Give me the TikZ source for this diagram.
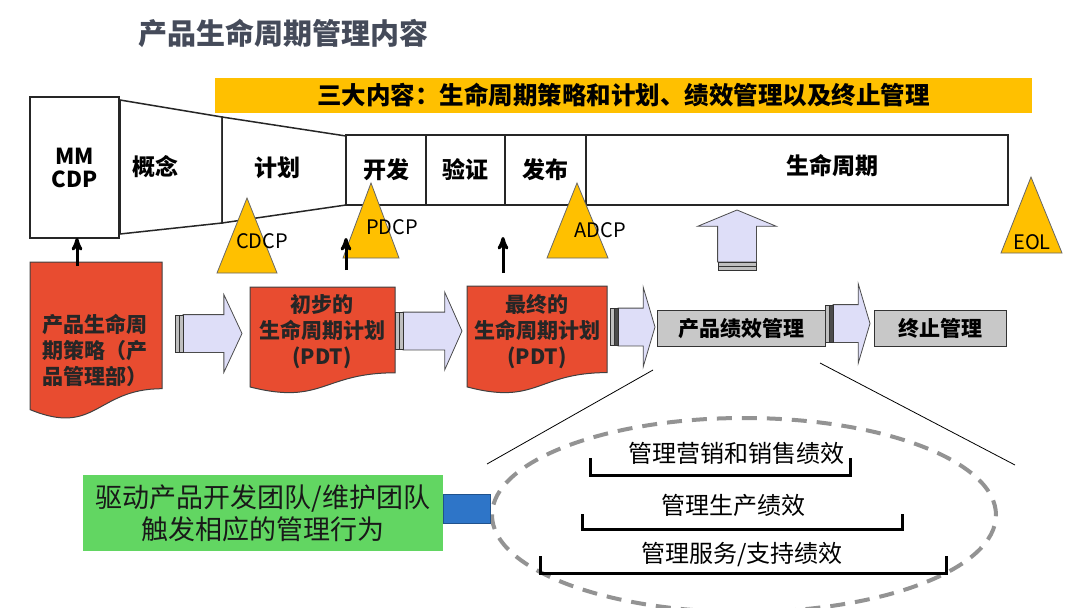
\documentclass[tikz,border=0pt]{standalone}
\usepackage{fontspec}
\setmainfont{Noto Sans CJK SC}
\usepackage{tikz}
\usetikzlibrary{arrows,shapes,positioning}
\definecolor{headgray}{RGB}{69,75,90}
\definecolor{gold}{RGB}{255,192,0}
\definecolor{docred}{RGB}{232,76,48}
\definecolor{lav}{RGB}{222,222,248}
\definecolor{boxgray}{RGB}{200,200,200}
\definecolor{teamgreen}{RGB}{98,214,98}
\definecolor{linkblue}{RGB}{46,117,200}
\newcommand{\fsz}[2]{\fontsize{#1}{#2}\selectfont}
% document shape: x1, x2, top, height
\newcommand{\docpath}[4]{(#1,#3) -- (#2,#3) -- (#2,{#3+0.802*#4}) .. controls ({(#1+#2)/2},{#3+0.802*#4}) and ({(#1+#2)/2},{#3+1.107*#4}) .. (#1,{#3+0.934*#4}) -- cycle}

\begin{document}
\begin{tikzpicture}[x=1pt,y=-1pt,>=stealth',auto]
  \tikzstyle{heading}=[font=\fsz{29}{32}\bfseries,text=headgray,inner sep=0pt]
  \tikzstyle{band}=[rectangle,fill=gold,minimum width=817pt,minimum height=35pt,inner sep=0pt,font=\fsz{24.5}{28}\bfseries]
  \tikzstyle{phase}=[rectangle,draw=black!85,line width=1.3pt,fill=white,minimum height=70pt,inner sep=0pt,outer sep=0pt,font=\fsz{23}{27}\bfseries]
  \tikzstyle{funnel}=[draw=black!85,line width=1.5pt,fill=white]
  \tikzstyle{phlbl}=[inner sep=0pt,font=\fsz{23}{27}\bfseries]
  \tikzstyle{gate}=[fill=gold,draw=black!60,line width=0.8pt]
  \tikzstyle{gatelbl}=[inner sep=0pt,font=\fsz{20}{24}]
  \tikzstyle{rise}=[->,line width=3pt,black]
  \tikzstyle{doc}=[fill=docred,draw=black!75,line width=1pt]
  \tikzstyle{doctext}=[inner sep=0pt,align=center,text=black!85,font=\fsz{21}{26}\bfseries]
  \tikzstyle{flow}=[single arrow,draw=black!70,fill=lav,line width=0.8pt,inner xsep=0pt,inner ysep=18.5pt,outer sep=0pt,single arrow head extend=20pt]
  \tikzstyle{stripe}=[rectangle,draw=black!80,fill=gray!50,line width=0.6pt,minimum width=4pt,minimum height=37pt,inner sep=0pt,outer sep=0pt]
  \tikzstyle{stage}=[rectangle,draw=black!80,fill=boxgray,line width=1pt,minimum height=36pt,inner sep=0pt,font=\fsz{21}{24}\bfseries]
  \tikzstyle{team}=[rectangle,fill=teamgreen,minimum width=360pt,minimum height=76pt,align=center,text=black!90,font=\fsz{27}{32}]
  \tikzstyle{link}=[rectangle,fill=linkblue,draw=linkblue!70!black,minimum width=47pt,minimum height=29pt,inner sep=0pt]
  \tikzstyle{perf}=[ellipse,draw=gray!85,line width=4pt,dash pattern=on 15pt off 10pt,minimum width=504pt,minimum height=194pt]
  \tikzstyle{item}=[inner sep=0pt,font=\fsz{24}{28}]
  \tikzstyle{bracket}=[line width=3pt,black]
  \tikzstyle{spread}=[line width=0.8pt,black]

  \useasboundingbox (0,0) rectangle (1080,608);

  % Title and summary band.
  \node [heading] (ttl) at (283,33) {产品生命周期管理内容};
  \node [band] (band) at (623.5,95.5) {三大内容：生命周期策略和计划、绩效管理以及终止管理};

  \begin{scope}
    % MM CDP and the funnel.
    \node [phase,minimum width=89pt,minimum height=141pt,align=center,font=\fsz{22}{23}\bfseries] (mm) at (74.5,167.5) {MM\\CDP};
    \filldraw [funnel] (120,100) -- (222,117) -- (222,223) -- (120,234) -- cycle;
    \filldraw [funnel] (222,117) -- (346,136) -- (346,205) -- (222,223) -- cycle;
    \node [phlbl] (gn) at (155,167) {概念};
    \node [phlbl] (jh) at (277,168) {计划};

    % Phase bar.
    \node [phase,minimum width=80pt] (ph3) at (386,170) {开发};
    \node [phase,minimum width=79pt] (ph4) [right=0pt of ph3] {验证};
    \node [phase,minimum width=81pt] (ph5) [right=0pt of ph4] {发布};
    \node [phase,minimum width=422pt,label={[phlbl,xshift=35pt,yshift=4pt]center:生命周期}] (ph6) [right=0pt of ph5] {};
  \end{scope}

  \begin{scope}
    % Decision checkpoints.
    \filldraw [gate] (247,198) -- (277,273) -- (217,273) -- cycle;
    \node [gatelbl] (cdcp) at (262,241) {CDCP};
    \filldraw [gate] (371,183) -- (399,258) -- (343,258) -- cycle;
    \node [gatelbl] (pdcp) at (392,227) {PDCP};
    \filldraw [gate] (577,183) -- (608,258) -- (547,258) -- cycle;
    \node [gatelbl] (adcp) at (600,230) {ADCP};
    \filldraw [gate] (1031,177) -- (1062,253) -- (1001,253) -- cycle;
    \node [gatelbl] (eol) at (1032,242) {EOL};
  \end{scope}

  \begin{scope}
    % Plans.
    \filldraw [doc] \docpath{30}{162}{262}{158};
    \node [doctext] (strat) at (95,350) {产品生命周\\期策略（产\\品管理部）};
    \filldraw [doc] \docpath{250}{395}{287}{107};
    \node [doctext] (plan1) at (322,332) {初步的\\生命周期计划\\(PDT)};
    \filldraw [doc] \docpath{467}{607}{286}{108};
    \node [doctext] (plan2) at (537,332) {最终的\\生命周期计划\\(PDT)};

    % Management stages.
    \node [stage,minimum width=168pt] (pm) at (741,328.5) {产品绩效管理};
    \node [stage,minimum width=132pt] (em) at (940,328.5) {终止管理};
  \end{scope}

  \begin{scope}
    % Flow arrows.
    \node [flow,single arrow tip angle=130,minimum height=59pt,anchor=tail] (f1) at (183,333.5) {};
    \node [stripe] (s1b) [left=0pt of f1.tail] {};
    \node [stripe] (s1a) [left=0pt of s1b] {};
    \node [flow,single arrow tip angle=132,minimum height=59pt,anchor=tail] (f2) at (403,331) {};
    \node [stripe] (s2b) [left=0pt of f2.tail] {};
    \node [stripe] (s2a) [left=0pt of s2b] {};
    \node [flow,single arrow tip angle=147,single arrow head extend=21pt,minimum height=37pt,anchor=tail] (f3) at (618,327) {};
    \node [stripe,fill=black!70] (s3b) [left=0pt of f3.tail] {};
    \node [stripe] (s3a) [left=0pt of s3b] {};
    \node [flow,single arrow tip angle=147,single arrow head extend=21pt,minimum height=37pt,anchor=tail] (f4) at (833,323.5) {};
    \node [stripe,fill=black!70] (s4b) [left=0pt of f4.tail] {};
    \node [stripe] (s4a) [left=0pt of s4b] {};
    \node [flow,rotate=90,inner ysep=19pt,single arrow tip angle=135,minimum height=52pt,anchor=tail] (up) at (737,262) {};
    \node [stripe,minimum width=38pt,minimum height=4pt] (su1) [below=0pt of up.tail] {};
    \node [stripe,minimum width=38pt,minimum height=4pt] (su2) [below=0pt of su1] {};

    % Feedback arrows.
    \coordinate (t1) at (77,266);
    \coordinate (t2) at (346,270);
    \coordinate (h2) at (346,238);
    \coordinate (t3) at (503,273);
    \coordinate (h3) at (503,237);
    \draw [rise] (t1) -- (t1 |- mm.south);
    \draw [rise] (t2) -- (h2);
    \draw [rise] (t3) -- (h3);
  \end{scope}

  \begin{scope}
    % Performance detail.
    \coordinate (ul) at (653,370);
    \coordinate (ll) at (487,464);
    \coordinate (ur) at (820,363);
    \coordinate (lr) at (1015,465);
    \draw [spread] (ul) -- (ll);
    \draw [spread] (ur) -- (lr);
    \node [perf] (perf) at (744,515) {};
    \node [item] (it1) at (736,453) {管理营销和销售绩效};
    \node [item] (it2) at (733,505) {管理生产绩效};
    \node [item] (it3) at (742,555) {管理服务/支持绩效};
    \draw [bracket] (590,458) -- (590,475) -- (850,475) -- (850,458);
    \draw [bracket] (582,514) -- (582,529) -- (902,529) -- (902,514);
    \draw [bracket] (540,556) -- (540,573) -- (946,573) -- (946,556);

    % Teams.
    \node [team] (team) at (263,513) {驱动产品开发团队/维护团队\\触发相应的管理行为};
    \node [link] (lnk) at (466.5,508.5) {};
  \end{scope}
\end{tikzpicture}
\end{document}
